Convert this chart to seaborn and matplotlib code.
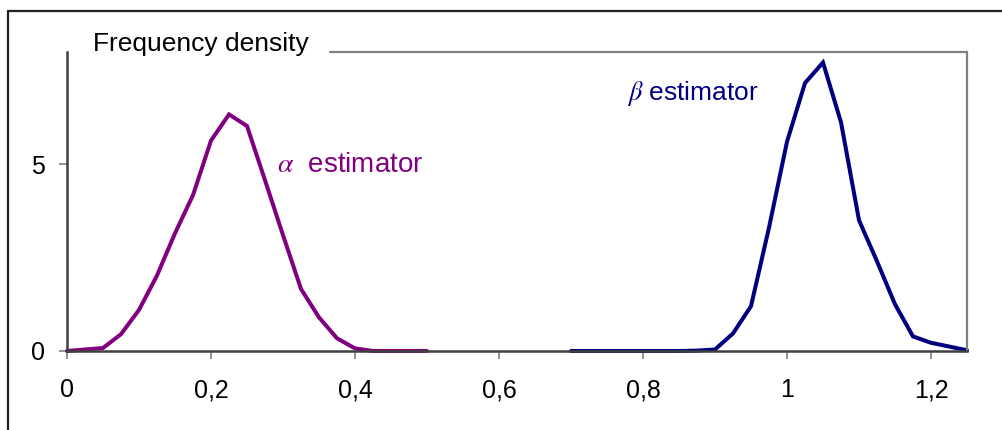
import matplotlib
matplotlib.use("Agg")
import matplotlib.pyplot as plt
from matplotlib.lines import Line2D
import seaborn as sns
import pandas as pd

alpha_x = [0, 0.05, 0.075, 0.1, 0.125, 0.15, 0.175, 0.2, 0.225, 0.25, 0.275,
           0.3, 0.325, 0.35, 0.375, 0.4, 0.425, 0.45, 0.475, 0.5]
alpha_y = [0, 0.08, 0.45, 1.1, 2.02, 3.15, 4.17, 5.63, 6.33, 6.02, 4.57,
           3.1, 1.66, 0.9, 0.34, 0.07, 0, 0, 0, 0]

beta_x = [0.7, 0.725, 0.75, 0.775, 0.8, 0.825, 0.85, 0.875, 0.9, 0.925, 0.95,
          0.975, 1.0, 1.025, 1.05, 1.075, 1.1, 1.125, 1.15, 1.175, 1.2, 1.225, 1.25]
beta_y = [0, 0, 0, 0, 0, 0, 0, 0.01, 0.04, 0.47, 1.2,
          3.3, 5.6, 7.17, 7.72, 6.12, 3.5, 2.4, 1.25, 0.39, 0.22, 0.12, 0.02]

x_ticks = [0, 0.2, 0.4, 0.6, 0.8, 1.0, 1.2]
x_tick_labels = ["0", "0,2", "0,4", "0,6", "0,8", "1", "1,2"]
y_ticks = [0, 5]
y_tick_labels = ["0", "5"]

alpha_color = "#800080"
beta_color = "#000080"

sns.set_style("white")
plt.rcParams["font.family"] = ["Liberation Sans", "DejaVu Sans"]
plt.rcParams["mathtext.fontset"] = "stix"

fig = plt.figure(figsize=(10.02, 4.30), dpi=100)
ax = fig.add_axes([67 / 1002, 1 - 351 / 430, 900 / 1002, 299 / 430])

df_a = pd.DataFrame({"x": alpha_x, "y": alpha_y})
df_b = pd.DataFrame({"x": beta_x, "y": beta_y})
sns.lineplot(data=df_a, x="x", y="y", ax=ax, color=alpha_color, lw=2.9,
             sort=False, estimator=None, solid_joinstyle="miter", clip_on=False)
sns.lineplot(data=df_b, x="x", y="y", ax=ax, color=beta_color, lw=2.9,
             sort=False, estimator=None, solid_joinstyle="miter", clip_on=False)

ax.set_xlim(0, 1.25)
ax.set_ylim(0, 8)
ax.set_xticks(x_ticks)
ax.set_xticklabels(x_tick_labels)
ax.set_yticks(y_ticks)
ax.set_yticklabels(y_tick_labels)
ax.set_xlabel("")
ax.set_ylabel("")
ax.tick_params(axis="both", bottom=True, left=True, labelsize=18,
               colors="#808080", labelcolor="black",
               length=6, width=1.2, direction="out")
ax.tick_params(axis="x", pad=13.5)
ax.tick_params(axis="y", pad=10)

for s in ["left", "bottom"]:
    ax.spines[s].set_color("#404040")
    ax.spines[s].set_linewidth(1.8)
ax.spines["right"].set_color("#808080")
ax.spines["right"].set_linewidth(1.6)
ax.spines["top"].set_visible(False)

# top border of plot area, interrupted by the title
ax.add_line(Line2D([(330 - 67) / 720, 1.25], [8, 8], color="#808080", lw=1.6,
                   clip_on=False))

ax.text(0.036, 8.22, "Frequency density", fontsize=19, color="black",
        ha="left", va="center", clip_on=False)
ax.text(0.292, 4.98, r"$\alpha$  estimator", fontsize=20, color=alpha_color,
        ha="left", va="center")
ax.text(0.778, 6.9, r"$\beta$ estimator", fontsize=19, color=beta_color,
        ha="left", va="center")

# outer chart frame
fig.add_artist(Line2D([8 / 1002, 1.0], [1 - 11 / 430, 1 - 11 / 430],
                      transform=fig.transFigure, color="#202020", lw=1.6))
fig.add_artist(Line2D([8 / 1002, 8 / 1002], [0, 1 - 11 / 430],
                      transform=fig.transFigure, color="#202020", lw=1.6))

fig.savefig("out.png", dpi=100)
